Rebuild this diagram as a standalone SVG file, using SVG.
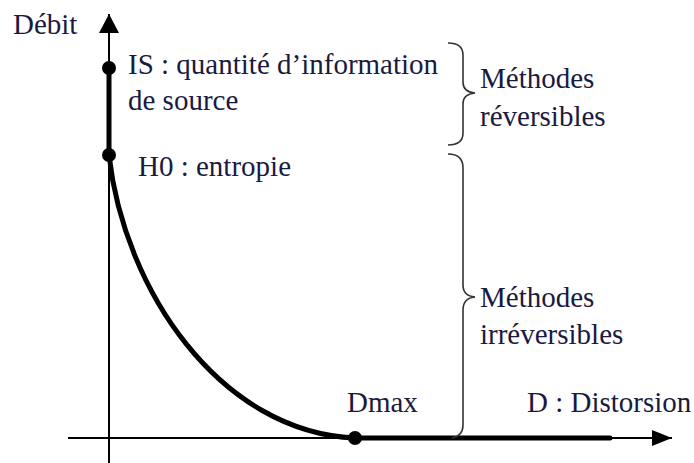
<svg xmlns="http://www.w3.org/2000/svg" width="694" height="463" viewBox="0 0 694 463">
<style>
text{font-family:"Liberation Serif","Times New Roman",serif;font-size:29px;fill:#1a1a40}
.axis{stroke:#000;stroke-width:2;fill:none}
.thick{stroke:#000;stroke-width:5;fill:none;stroke-linecap:round}
.brace{stroke:#333;stroke-width:1.6;fill:none}
.dot{fill:#000}
</style>
<rect width="694" height="463" fill="#fff"/>
<g id="connectors">
<line class="axis" x1="109" y1="463" x2="109" y2="14"/>
<path d="M99,33 L109,14 L119,33 Z" fill="#000"/>
<line class="axis" x1="68" y1="438" x2="672" y2="438"/>
<path d="M652,430 L672,438 L652,446 Z" fill="#000"/>
<line class="thick" x1="109" y1="68" x2="109" y2="155"/>
<path class="thick" d="M109,155 C124,290 220,432 355,438"/>
<line class="thick" x1="355" y1="438" x2="610" y2="438"/>
<path class="brace" d="M448,43 Q463,43 463,55 L463,82 Q463,92 475,93 Q463,94 463,104 L463,133 Q463,145 448,145"/>
<path class="brace" d="M448,154 Q463,154 463,168 L463,285 Q463,296 475,297 Q463,298 463,310 L463,425 Q463,436 452,438"/>
</g>
<g id="IS"><circle class="dot" cx="109" cy="68" r="7"/><text x="128" y="74">IS : quantité d’information</text><text x="128" y="110">de source</text></g>
<g id="H0"><circle class="dot" cx="109" cy="155" r="7"/><text x="138" y="176">H0 : entropie</text></g>
<g id="Dmax"><circle class="dot" cx="355" cy="438" r="7"/><text x="347" y="412">Dmax</text></g>
<g id="debit"><text x="13" y="34">Débit</text></g>
<g id="distorsion"><text x="527" y="412">D : Distorsion</text></g>
<g id="reversibles"><text x="480" y="88">Méthodes</text><text x="480" y="126">réversibles</text></g>
<g id="irreversibles"><text x="480" y="307">Méthodes</text><text x="480" y="344">irréversibles</text></g>
</svg>
